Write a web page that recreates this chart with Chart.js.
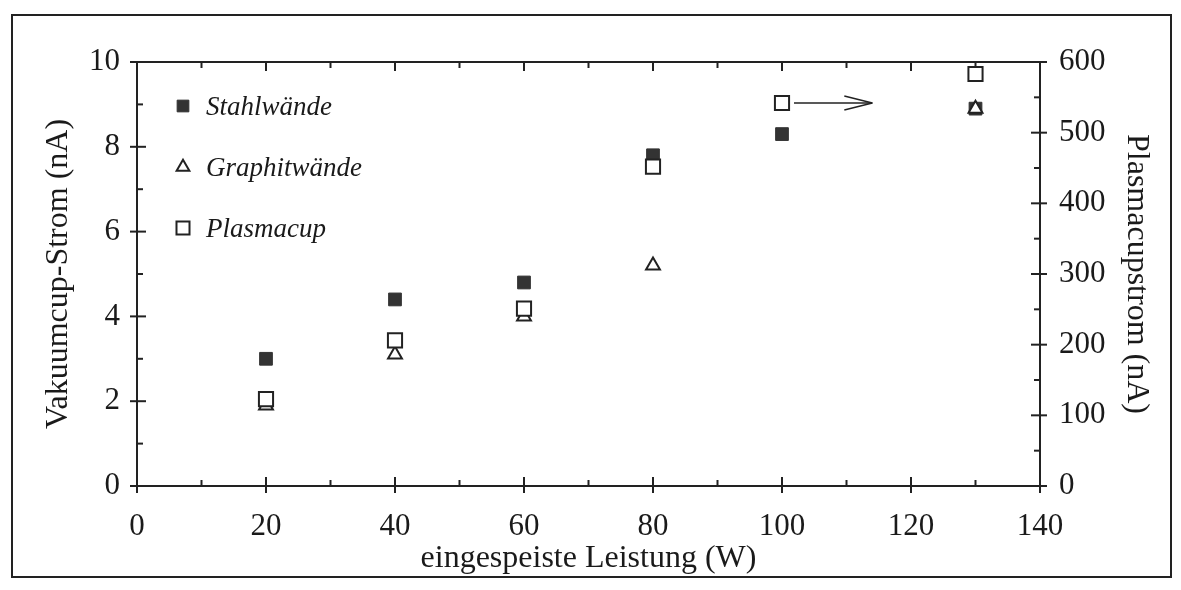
<!DOCTYPE html>
<html>
<head>
<meta charset="utf-8">
<script src="https://cdn.jsdelivr.net/npm/chart.js@4/dist/chart.umd.min.js"></script>
<style>
  body { margin: 0; background: #fff; }
  #wrap { position: relative; width: 1181px; height: 590px; overflow: hidden; }
  #frame { position: absolute; left: 11px; top: 14px; width: 1157px; height: 560px;
           border: 2px solid #222; pointer-events: none; }
</style>
</head>
<body>
<div id="wrap">
  <canvas id="myChart" width="1181" height="590"></canvas>
  <div id="frame"></div>
</div>
<script>
// data
var powers = [20, 40, 60, 80, 100, 130];          // eingespeiste Leistung (W)
var stahl = [3.0, 4.4, 4.8, 7.8, 8.3, 8.9];        // Vakuumcup-Strom (nA)
var graphit = [1.9, 3.1, 4.0, 5.2, null, 8.9];     // Vakuumcup-Strom (nA)
var plasma = [123, 206, 251, 452, 542, 583];       // Plasmacupstrom (nA), right axis
var labels = ["Stahlwände", "Graphitwände", "Plasmacup"];
var arrowTo = 114;   // arrow tip (W), points to the right axis

var serif = "'Liberation Serif', 'DejaVu Serif', serif";

var toPoints = function(ys) {
  var pts = [];
  powers.forEach(function(x, i) {
    if (ys[i] !== null) pts.push({ x: x, y: ys[i] });
  });
  return pts;
};

var line = function(ctx, x0, y0, x1, y1) {
  ctx.beginPath();
  ctx.moveTo(x0, y0);
  ctx.lineTo(x1, y1);
  ctx.stroke();
};

// box, inner/minor ticks, arrow and legend inside the plot
var decor = {
  id: "decor",
  afterDraw: function(chart) {
    var ctx = chart.ctx, a = chart.chartArea, s = chart.scales;
    ctx.save();
    ctx.strokeStyle = "#222";
    ctx.lineWidth = 2;
    ctx.strokeRect(a.left, a.top, a.right - a.left, a.bottom - a.top);

    var v, p, major, len;
    for (v = 0; v <= 140; v += 10) {
      p = s.x.getPixelForValue(v);
      major = v % 20 === 0;
      len = major ? 9 : 6;
      line(ctx, p, a.bottom + (major ? 7 : 0), p, a.bottom - len);
      line(ctx, p, a.top, p, a.top + len);
    }
    for (v = 0; v <= 10; v += 1) {
      p = s.y.getPixelForValue(v);
      major = v % 2 === 0;
      len = major ? 9 : 6;
      line(ctx, a.left - (major ? 7 : 0), p, a.left + len, p);
    }
    for (v = 0; v <= 600; v += 50) {
      p = s.y1.getPixelForValue(v);
      major = v % 100 === 0;
      len = major ? 9 : 6;
      line(ctx, a.right - len, p, a.right + (major ? 7 : 0), p);
    }

    // arrow from the 100 W plasma point
    var ay = s.y1.getPixelForValue(plasma[4]);
    var ax0 = s.x.getPixelForValue(powers[4]) + 12;
    var ax1 = s.x.getPixelForValue(arrowTo);
    ctx.lineWidth = 1.6;
    line(ctx, ax0, ay, ax1, ay);
    line(ctx, ax1 - 28, ay - 7, ax1, ay);
    line(ctx, ax1 - 28, ay + 7, ax1, ay);

    // legend
    ctx.font = "italic 27px " + serif;
    ctx.textBaseline = "middle";
    chart.data.datasets.forEach(function(ds, i) {
      var mx = a.left + 46, my = a.top + 44 + i * 61;
      ctx.fillStyle = ds.backgroundColor;
      ctx.strokeStyle = ds.borderColor;
      ctx.lineWidth = ds.borderWidth;
      Chart.helpers.drawPoint(ctx, {
        pointStyle: ds.pointStyle, radius: ds.pointRadius * 0.92, rotation: 0, borderWidth: ds.borderWidth
      }, mx, my);
      ctx.fillStyle = "#1a1a1a";
      ctx.fillText(ds.label, a.left + 69, my + 2);
    });
    ctx.restore();
  }
};

var tickFont = { family: serif, size: 31 };
var titleFont = { family: serif, size: 32 };

var ctx = document.getElementById("myChart");
var myChart = new Chart(ctx, {
  type: "scatter",
  data: {
    datasets: [
      {
        label: labels[0],
        data: toPoints(stahl),
        yAxisID: "y",
        pointStyle: "rect",
        pointRadius: 9,
        backgroundColor: "#333",
        borderColor: "#333",
        borderWidth: 1,
        order: 3
      },
      {
        label: labels[1],
        data: toPoints(graphit),
        yAxisID: "y",
        pointStyle: "triangle",
        pointRadius: 8,
        backgroundColor: "#fff",
        borderColor: "#222",
        borderWidth: 2,
        order: 2
      },
      {
        label: labels[2],
        data: toPoints(plasma),
        yAxisID: "y1",
        pointStyle: "rect",
        pointRadius: 10,
        backgroundColor: "#fff",
        borderColor: "#222",
        borderWidth: 2,
        order: 1
      }
    ]
  },
  options: {
    responsive: false,
    animation: false,
    layout: { padding: { left: 35, right: 21, top: 62, bottom: 8 } },
    plugins: { legend: { display: false }, tooltip: { enabled: false } },
    scales: {
      x: {
        type: "linear",
        min: 0, max: 140,
        afterFit: function(scale) { scale.height = 96; },
        grid: { display: false },
        border: { display: false },
        ticks: { stepSize: 20, padding: 14, color: "#1a1a1a", font: tickFont },
        title: { display: true, text: "eingespeiste Leistung (W)", color: "#1a1a1a",
                 font: titleFont, padding: { top: 0, bottom: 4 } }
      },
      y: {
        position: "left",
        min: 0, max: 10,
        afterFit: function(scale) { scale.width = 102; },
        grid: { display: false },
        border: { display: false },
        ticks: { stepSize: 2, padding: 9, color: "#1a1a1a", font: tickFont },
        title: { display: true, text: "Vakuumcup-Strom (nA)", color: "#1a1a1a",
                 font: titleFont, padding: { top: 4, bottom: 0 } }
      },
      y1: {
        position: "right",
        min: 0, max: 600,
        afterFit: function(scale) { scale.width = 120; },
        grid: { display: false },
        border: { display: false },
        ticks: { stepSize: 100, padding: 11, color: "#1a1a1a", font: tickFont },
        title: { display: true, text: "Plasmacupstrom (nA)", color: "#1a1a1a",
                 font: titleFont, padding: { top: 4, bottom: 0 } }
      }
    }
  },
  plugins: [decor]
});
</script>
</body>
</html>
